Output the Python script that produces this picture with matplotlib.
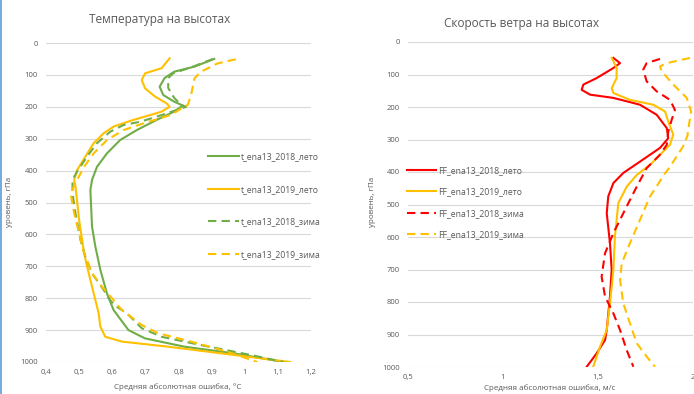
import matplotlib
matplotlib.use("Agg")
import matplotlib.pyplot as plt
from matplotlib.ticker import FuncFormatter, MultipleLocator
from matplotlib.lines import Line2D

plt.rcParams['font.family'] = ['Open Sans', 'DejaVu Sans']

# Температура: уровни (гПа) и средняя абсолютная ошибка (°C)
t18_summer_p = [50, 74, 90, 110, 137, 163, 184, 196, 215, 241, 273, 304, 346, 388, 429, 461,
                576, 638, 711, 785, 837, 858, 900, 926, 952, 973, 1000]
t18_summer_v = [0.908, 0.848, 0.787, 0.758, 0.743, 0.754, 0.787, 0.813, 0.787, 0.734, 0.674,
                0.624, 0.584, 0.554, 0.539, 0.534, 0.539, 0.549, 0.564, 0.584, 0.604, 0.619,
                0.649, 0.699, 0.818, 0.968, 1.117]

t19_summer_p = [48, 79, 95, 116, 142, 168, 189, 200, 215, 220, 241, 262, 283, 314, 356, 398,
                429, 450, 555, 659, 722, 785, 847, 889, 921, 936, 952, 978, 1000]
t19_summer_v = [0.773, 0.749, 0.699, 0.689, 0.699, 0.729, 0.764, 0.773, 0.749, 0.734, 0.664,
                0.604, 0.574, 0.544, 0.519, 0.494, 0.485, 0.489, 0.500, 0.515, 0.529, 0.544,
                0.559, 0.564, 0.579, 0.629, 0.769, 0.968, 1.137]

t18_winter_p = [50, 74, 95, 110, 141, 172, 194, 200, 231, 247, 257, 278, 314, 356, 403, 429,
                471, 534, 617, 670, 722, 774, 806, 827, 847, 894, 921, 947, 978, 1000]
t18_winter_v = [0.904, 0.844, 0.784, 0.769, 0.769, 0.787, 0.808, 0.823, 0.734, 0.684, 0.634,
                0.594, 0.554, 0.524, 0.494, 0.480, 0.480, 0.489, 0.504, 0.519, 0.539, 0.574,
                0.593, 0.614, 0.644, 0.689, 0.749, 0.868, 1.018, 1.117]

t19_winter_p = [51, 64, 90, 111, 163, 194, 200, 225, 252, 273, 304, 346, 388, 429, 471, 534,
                597, 659, 722, 764, 806, 837, 884, 910, 936, 968, 1000]
t19_winter_v = [0.973, 0.918, 0.868, 0.848, 0.838, 0.828, 0.817, 0.778, 0.694, 0.634, 0.584,
                0.544, 0.515, 0.494, 0.474, 0.485, 0.500, 0.515, 0.539, 0.569, 0.604, 0.629,
                0.689, 0.739, 0.838, 0.948, 1.038]

# Скорость ветра: уровни (гПа) и средняя абсолютная ошибка (м/с)
ff18_summer_p = [49, 65, 80, 111, 131, 147, 162, 172, 193, 224, 265, 296, 326, 368, 403, 434,
                 475, 527, 619, 701, 783, 886, 917, 958, 999]
ff18_summer_v = [1.581, 1.616, 1.581, 1.493, 1.423, 1.414, 1.458, 1.581, 1.721, 1.809, 1.862,
                 1.870, 1.826, 1.721, 1.633, 1.581, 1.554, 1.546, 1.563, 1.572, 1.563, 1.546,
                 1.537, 1.493, 1.441]

ff19_summer_p = [49, 80, 111, 142, 157, 178, 193, 214, 245, 285, 316, 347, 378, 409, 445, 496,
                 599, 701, 804, 886, 937, 999]
ff19_summer_v = [1.572, 1.598, 1.598, 1.572, 1.581, 1.668, 1.791, 1.853, 1.870, 1.896, 1.879,
                 1.826, 1.774, 1.704, 1.651, 1.607, 1.589, 1.581, 1.563, 1.546, 1.511, 1.475]

ff18_winter_p = [52, 65, 85, 121, 152, 178, 209, 239, 275, 316, 347, 388, 445, 506, 588, 650,
                 722, 783, 835, 886, 948, 999]
ff18_winter_v = [1.826, 1.756, 1.738, 1.756, 1.809, 1.879, 1.905, 1.888, 1.870, 1.862, 1.826,
                 1.756, 1.704, 1.651, 1.581, 1.537, 1.519, 1.537, 1.581, 1.616, 1.651, 1.686]

ff19_winter_p = [49, 65, 75, 90, 131, 172, 214, 250, 290, 322, 384, 404, 475, 547, 619, 681,
                 732, 804, 865, 927, 968, 999]
ff19_winter_v = [1.984, 1.862, 1.826, 1.835, 1.896, 1.967, 1.990, 1.980, 1.970, 1.947, 1.879,
                 1.853, 1.774, 1.721, 1.668, 1.625, 1.616, 1.633, 1.668, 1.704, 1.756, 1.800]

GREEN = '#70AD47'
YELLOW = '#FFC000'
RED = '#FF0000'
TXT = '#595959'
GRID = '#D9D9D9'

W, H = 694, 394
fig = plt.figure(figsize=(W / 100, H / 100), dpi=100)


def ax_rect(x0, x1, y0, y1):
    return [x0 / W, 1 - y1 / H, (x1 - x0) / W, (y1 - y0) / H]


def comma(x, pos):
    s = f"{x:.1f}".rstrip('0').rstrip('.')
    return s.replace('.', ',')


def style(ax, xmin, xmax, xstep):
    ax.set_xlim(xmin, xmax)
    ax.set_ylim(1000, 0)
    ax.xaxis.set_major_locator(MultipleLocator(xstep))
    ax.yaxis.set_major_locator(MultipleLocator(100))
    ax.xaxis.set_major_formatter(FuncFormatter(comma))
    for s in ax.spines.values():
        s.set_visible(False)
    ax.grid(axis='y', color=GRID, lw=0.8)
    ax.set_axisbelow(True)
    ax.tick_params(length=0, labelsize=5.5, colors=TXT, pad=6)
    ax.tick_params(axis='x', pad=5)
    ax.patch.set_alpha(0)


lw = 1.5
dash = (4, 2.5)

# Левый график: температура
ax1 = fig.add_axes(ax_rect(46, 311, 43, 362))
style(ax1, 0.4, 1.2, 0.1)
ax1.plot(t18_summer_v, t18_summer_p, color=GREEN, lw=lw, label='t_ena13_2018_лето')
ax1.plot(t19_summer_v, t19_summer_p, color=YELLOW, lw=lw, label='t_ena13_2019_лето')
ax1.plot(t18_winter_v, t18_winter_p, color=GREEN, lw=lw, dashes=dash, label='t_ena13_2018_зима')
ax1.plot(t19_winter_v, t19_winter_p, color=YELLOW, lw=lw, dashes=dash, label='t_ena13_2019_зима')
ax1.legend(loc='upper left', bbox_to_anchor=(208 / W, 1 - 152 / H), bbox_transform=fig.transFigure,
           frameon=False, fontsize=6.2, labelcolor=TXT, handlelength=3.6, handletextpad=0.2,
           labelspacing=2.75, borderpad=0, borderaxespad=0)

# Правый график: скорость ветра
ax2 = fig.add_axes(ax_rect(408, 693, 42, 367))
style(ax2, 0.5, 2.0, 0.5)
ax2.plot(ff18_summer_v, ff18_summer_p, color=RED, lw=lw, label='FF_ena13_2018_лето')
ax2.plot(ff19_summer_v, ff19_summer_p, color=YELLOW, lw=lw, label='FF_ena13_2019_лето')
ax2.plot(ff18_winter_v, ff18_winter_p, color=RED, lw=lw, dashes=dash, label='FF_ena13_2018_зима')
ax2.plot(ff19_winter_v, ff19_winter_p, color=YELLOW, lw=lw, dashes=dash, label='FF_ena13_2019_зима')
ax2.legend(loc='upper left', bbox_to_anchor=(407 / W, 1 - 166 / H), bbox_transform=fig.transFigure,
           frameon=False, fontsize=6.2, labelcolor=TXT, handlelength=3.4, handletextpad=0.2,
           labelspacing=1.45, borderpad=0, borderaxespad=0)

# Подписи
fig.text(160 / W, 1 - 19 / H, 'Температура на высотах', ha='center', va='center', fontsize=8.5, color=TXT)
fig.text(522 / W, 1 - 23 / H, 'Скорость ветра на высотах', ha='center', va='center', fontsize=8.5, color=TXT)
fig.text(10 / W, 1 - 202 / H, 'уровень, гПа', rotation=90, ha='center', va='center', fontsize=5.8, color=TXT)
fig.text(372 / W, 1 - 202 / H, 'уровень, гПа', rotation=90, ha='center', va='center', fontsize=5.8, color=TXT)
fig.text(178 / W, 1 - 387 / H, 'Средняя абсолютная ошибка, °C', ha='center', va='center', fontsize=5.8, color=TXT)
fig.text(550 / W, 1 - 388 / H, 'Средняя абсолютная ошибка, м/с', ha='center', va='center', fontsize=5.8, color=TXT)

# синяя полоса у левого края
fig.add_artist(Line2D([1 / W, 1 / W], [0, 1], transform=fig.transFigure, color='#5B9BD5', lw=1.2))

fig.savefig('out.png', dpi=100)
